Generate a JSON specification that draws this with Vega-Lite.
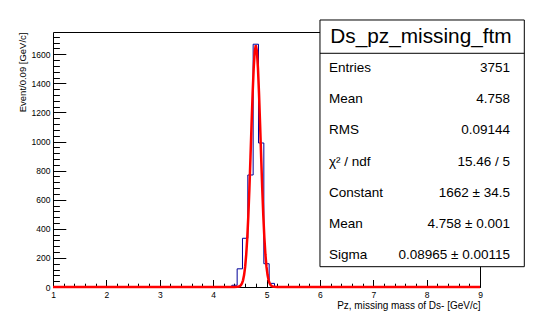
{
  "$schema": "https://vega.github.io/schema/vega-lite/v6.json",
  "width": 427,
  "height": 255,
  "autosize": "none",
  "padding": {"left": 53, "top": 32, "right": 54, "bottom": 32},
  "background": "white",
  "config": {
    "view": {"stroke": "black", "strokeWidth": 1},
    "font": "Liberation Sans",
    "axis": {"domain": false, "grid": false, "tickColor": "black", "tickWidth": 1, "labelColor": "black", "titleColor": "black", "labelFont": "Liberation Sans", "titleFont": "Liberation Sans", "titleFontWeight": "normal", "labelFlush": false, "labelOverlap": false}
  },
  "datasets": {
    "hist": [
      {"edge": 1, "count": 0},
      {"edge": 4.35, "count": 12},
      {"edge": 4.45, "count": 125},
      {"edge": 4.55, "count": 335},
      {"edge": 4.65, "count": 770},
      {"edge": 4.75, "count": 1669},
      {"edge": 4.85, "count": 990},
      {"edge": 4.95, "count": 160},
      {"edge": 5.05, "count": 25},
      {"edge": 5.15, "count": 3},
      {"edge": 5.25, "count": 0},
      {"edge": 9, "count": 0}
    ],
    "fit": [
      {"mass": 1, "fit": 0},
      {"mass": 4.40, "fit": 0},
      {"mass": 4.46, "fit": 1},
      {"mass": 4.48, "fit": 3},
      {"mass": 4.50, "fit": 6},
      {"mass": 4.52, "fit": 13},
      {"mass": 4.54, "fit": 25},
      {"mass": 4.56, "fit": 46},
      {"mass": 4.58, "fit": 82},
      {"mass": 4.60, "fit": 138},
      {"mass": 4.62, "fit": 222},
      {"mass": 4.64, "fit": 339},
      {"mass": 4.66, "fit": 492},
      {"mass": 4.68, "fit": 679},
      {"mass": 4.70, "fit": 893},
      {"mass": 4.72, "fit": 1117},
      {"mass": 4.74, "fit": 1329},
      {"mass": 4.76, "fit": 1505},
      {"mass": 4.78, "fit": 1621},
      {"mass": 4.80, "fit": 1662},
      {"mass": 4.82, "fit": 1621},
      {"mass": 4.84, "fit": 1505},
      {"mass": 4.86, "fit": 1329},
      {"mass": 4.88, "fit": 1117},
      {"mass": 4.90, "fit": 893},
      {"mass": 4.92, "fit": 679},
      {"mass": 4.94, "fit": 492},
      {"mass": 4.96, "fit": 339},
      {"mass": 4.98, "fit": 222},
      {"mass": 5.00, "fit": 138},
      {"mass": 5.02, "fit": 82},
      {"mass": 5.04, "fit": 46},
      {"mass": 5.06, "fit": 25},
      {"mass": 5.08, "fit": 13},
      {"mass": 5.10, "fit": 6},
      {"mass": 5.12, "fit": 3},
      {"mass": 5.14, "fit": 1},
      {"mass": 5.20, "fit": 0},
      {"mass": 9, "fit": 0}
    ],
    "statsTitle": [{"name": "Ds_pz_missing_ftm"}],
    "stats": [
      {"row": 1, "label": "Entries", "value": "3751"},
      {"row": 2, "label": "Mean", "value": "4.758"},
      {"row": 3, "label": "RMS", "value": "0.09144"},
      {"row": 4, "label": "χ² / ndf", "value": "15.46 / 5"},
      {"row": 5, "label": "Constant", "value": "1662 ± 34.5"},
      {"row": 6, "label": "Mean", "value": "4.758 ± 0.001"},
      {"row": 7, "label": "Sigma", "value": "0.08965 ± 0.00115"}
    ]
  },
  "layer": [
    {
      "data": {"name": "hist"},
      "mark": {"type": "line", "interpolate": "step-after", "color": "#000099", "strokeWidth": 1},
      "encoding": {
        "x": {"field": "edge", "type": "quantitative",
          "scale": {"domain": [1, 9], "nice": false, "zero": false},
          "axis": {"orient": "bottom", "values": [1, 2, 3, 4, 5, 6, 7, 8, 9], "format": "d", "ticks": false, "labelFontSize": 8.5, "labelPadding": 3, "title": "Pz, missing mass of Ds- [GeV/c]", "titleAnchor": "end", "titleFontSize": 10, "titlePadding": 2}},
        "y": {"field": "count", "type": "quantitative",
          "scale": {"domain": [0, 1753], "nice": false, "zero": false},
          "axis": {"orient": "left", "values": [0, 200, 400, 600, 800, 1000, 1200, 1400, 1600], "format": "d", "ticks": false, "labelFontSize": 8.5, "labelPadding": 3, "title": "Event/0.09 [GeV/c]", "titleAnchor": "end", "titleFontSize": 9.5, "titlePadding": 4}}
      }
    },
    {
      "data": {"name": "fit"},
      "mark": {"type": "line", "color": "#ff0000", "strokeWidth": 2.5},
      "encoding": {
        "x": {"field": "mass", "type": "quantitative",
          "scale": {"domain": [1, 9], "nice": false, "zero": false},
          "axis": {"orient": "bottom", "values": [1, 2, 3, 4, 5, 6, 7, 8, 9], "labels": false, "tickSize": -7.5, "title": null}},
        "y": {"field": "fit", "type": "quantitative",
          "scale": {"domain": [0, 1753], "nice": false, "zero": false},
          "axis": {"orient": "left", "values": [0, 200, 400, 600, 800, 1000, 1200, 1400, 1600], "labels": false, "tickSize": -12.8, "title": null}}
      }
    },
    {
      "data": {"values": [{}]},
      "mark": {"type": "rect", "fill": "white", "stroke": "black", "strokeWidth": 1},
      "encoding": {
        "x": {"datum": 6.002, "type": "quantitative",
          "scale": {"domain": [1, 9], "nice": false, "zero": false},
          "axis": {"orient": "bottom", "values": [1, 1.2, 1.4, 1.6, 1.8, 2, 2.2, 2.4, 2.6, 2.8, 3, 3.2, 3.4, 3.6, 3.8, 4, 4.2, 4.4, 4.6, 4.8, 5, 5.2, 5.4, 5.6, 5.8, 6, 6.2, 6.4, 6.6, 6.8, 7, 7.2, 7.4, 7.6, 7.8, 8, 8.2, 8.4, 8.6, 8.8, 9], "labels": false, "tickSize": -3.8, "title": null}},
        "x2": {"datum": 9.83},
        "y": {"datum": 1835.5, "type": "quantitative",
          "scale": {"domain": [0, 1753], "nice": false, "zero": false},
          "axis": {"orient": "left", "values": [0, 40, 80, 120, 160, 200, 240, 280, 320, 360, 400, 440, 480, 520, 560, 600, 640, 680, 720, 760, 800, 840, 880, 920, 960, 1000, 1040, 1080, 1120, 1160, 1200, 1240, 1280, 1320, 1360, 1400, 1440, 1480, 1520, 1560, 1600, 1640, 1680, 1720], "labels": false, "tickSize": -6.4, "title": null}},
        "y2": {"datum": 139.6}
      }
    },
    {
      "data": {"values": [{}]},
      "mark": {"type": "rule", "color": "black", "strokeWidth": 1},
      "encoding": {
        "x": {"datum": 6.002, "type": "quantitative", "scale": {"domain": [1, 9], "nice": false, "zero": false}, "axis": null},
        "x2": {"datum": 9.83},
        "y": {"datum": 1606.6, "type": "quantitative", "scale": {"domain": [0, 1753], "nice": false, "zero": false}, "axis": null}
      }
    },
    {
      "data": {"name": "statsTitle"},
      "mark": {"type": "text", "align": "center", "baseline": "middle", "fontSize": 20.8, "color": "black", "font": "Liberation Sans"},
      "encoding": {
        "x": {"datum": 7.894, "type": "quantitative", "scale": {"domain": [1, 9], "nice": false, "zero": false}, "axis": null},
        "y": {"datum": 1720.7, "type": "quantitative", "scale": {"domain": [0, 1753], "nice": false, "zero": false}, "axis": null},
        "text": {"field": "name"}
      }
    },
    {
      "data": {"name": "stats"},
      "mark": {"type": "text", "align": "left", "baseline": "middle", "fontSize": 13.5, "color": "black", "font": "Liberation Sans"},
      "encoding": {
        "x": {"datum": 6.171, "type": "quantitative", "scale": {"domain": [1, 9], "nice": false, "zero": false}, "axis": null},
        "y": {"field": "row", "type": "quantitative", "scale": {"domain": [-0.167, 8.032], "reverse": true, "nice": false, "zero": false}, "axis": null},
        "text": {"field": "label"}
      }
    },
    {
      "data": {"name": "stats"},
      "mark": {"type": "text", "align": "right", "baseline": "middle", "fontSize": 13.5, "color": "black", "font": "Liberation Sans"},
      "encoding": {
        "x": {"datum": 9.562, "type": "quantitative", "scale": {"domain": [1, 9], "nice": false, "zero": false}, "axis": null},
        "y": {"field": "row", "type": "quantitative", "scale": {"domain": [-0.167, 8.032], "reverse": true, "nice": false, "zero": false}, "axis": null},
        "text": {"field": "value"}
      }
    }
  ],
  "resolve": {"scale": {"y": "independent"}, "axis": {"x": "independent", "y": "independent"}}
}
